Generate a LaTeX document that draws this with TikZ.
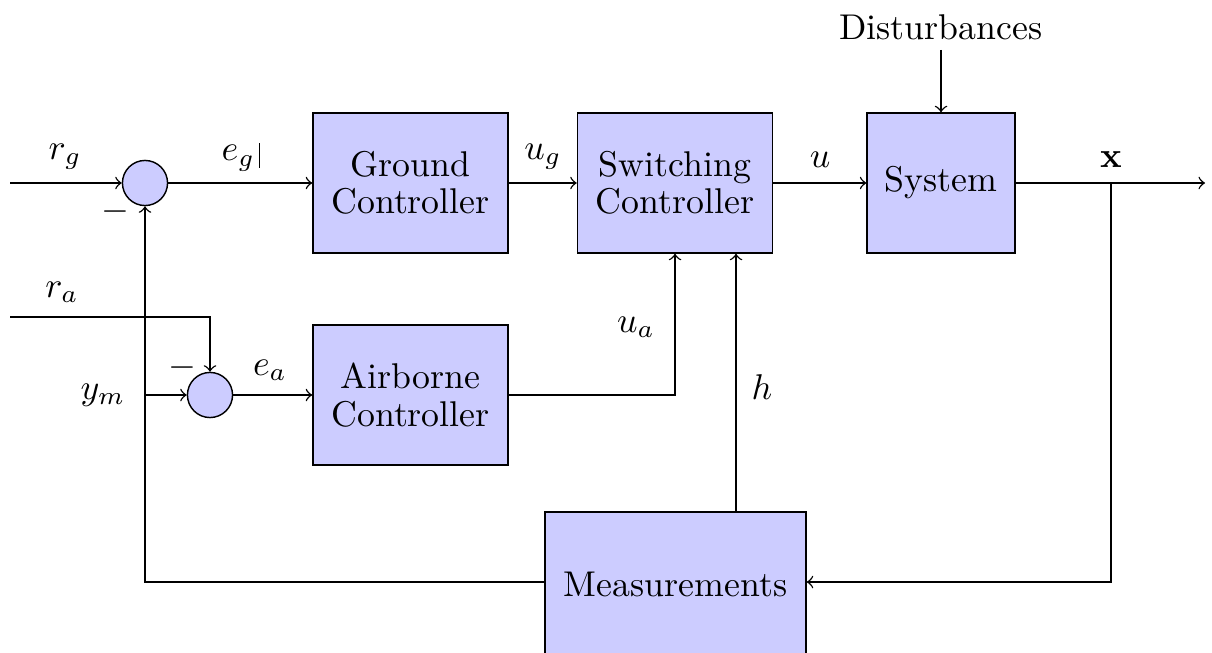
\documentclass[tikz,border=0pt]{standalone}
\usetikzlibrary{calc}
\begin{document}
\begin{tikzpicture}[x=0.2793pt,y=-0.2793pt, >=to,
  blk/.style={draw, fill=blue!20, minimum width=54.5pt, minimum height=39.1pt, align=center, inner sep=0pt, font=\fontsize{10}{10.4}\selectfont},
  sumc/.style={draw, fill=blue!20, circle, minimum size=12.6pt, inner sep=0pt},
  lbl/.style={inner sep=0pt}]
\useasboundingbox (0,0) rectangle (1212,652);
% blocks
\node[blk] (gc) at (410.5,183) {Ground\\Controller};
\node[blk] (sc) at (675,183) {Switching\\Controller};
\node[blk, minimum width=41.3pt] (sys) at (941,183) {System};
\node[blk] (ac) at (410.5,395) {Airborne\\Controller};
\node[blk, minimum width=72.9pt, minimum height=40.5pt] (ms) at (675.5,584.5) {Measurements};
\node[sumc] (s1) at (145,183) {};
\node[sumc] (s2) at (210,395) {};
\node[lbl] (dist) at (941,27) {Disturbances};
% coordinates
\coordinate (in1) at (10,183);
\coordinate (out) at (1205,183);
\coordinate (br) at (1111,183);
\coordinate (hx) at (736,0);
\coordinate (ra) at (10,317);
\coordinate (ym) at (145,395);
\coordinate (dtop) at (941,50);
% labels
\node[lbl] (lrg) at (65,157) {$r_g$};
\node[lbl] (leg) at (241,157) {$e_g$\hspace{1pt}\rule[-2pt]{0.5pt}{7pt}};
\node[lbl] (lug) at (543,157) {$u_g$};
\node[lbl] (lu) at (820,160) {$u$};
\node[lbl] (lx) at (1111,160) {$\mathbf{x}$};
\node[lbl] (lra) at (62,292) {$r_a$};
\node[lbl] (lym) at (103,395) {$y_m$};
\node[lbl] (lea) at (270,370) {$e_a$};
\node[lbl] (lua) at (636,327) {$u_a$};
\node[lbl] (lh) at (762,387) {$h$};
\node[lbl] (m1) at (115,212) {$-$};
\node[lbl] (m2) at (182,368) {$-$};
% connectors
\draw[->] (in1) -- (s1);
\draw[->] (s1) -- (gc);
\draw[->] (gc) -- (sc);
\draw[->] (sc) -- (sys);
\draw[->] (sys) -- (out);
\draw[->] (dtop) -- (sys);
\draw[->] (br) |- (ms.east |- 0,582);
\draw[->] (ms.west |- 0,582) -| (s1);
\draw[->] (ms.north -| hx) -- (sc.south -| hx);
\draw[->] (ac) -| (sc.south);
\draw[->] (ra) -| (s2);
\draw[->] (ym) -- (s2);
\draw[->] (s2) -- (ac);
\end{tikzpicture}
\end{document}
